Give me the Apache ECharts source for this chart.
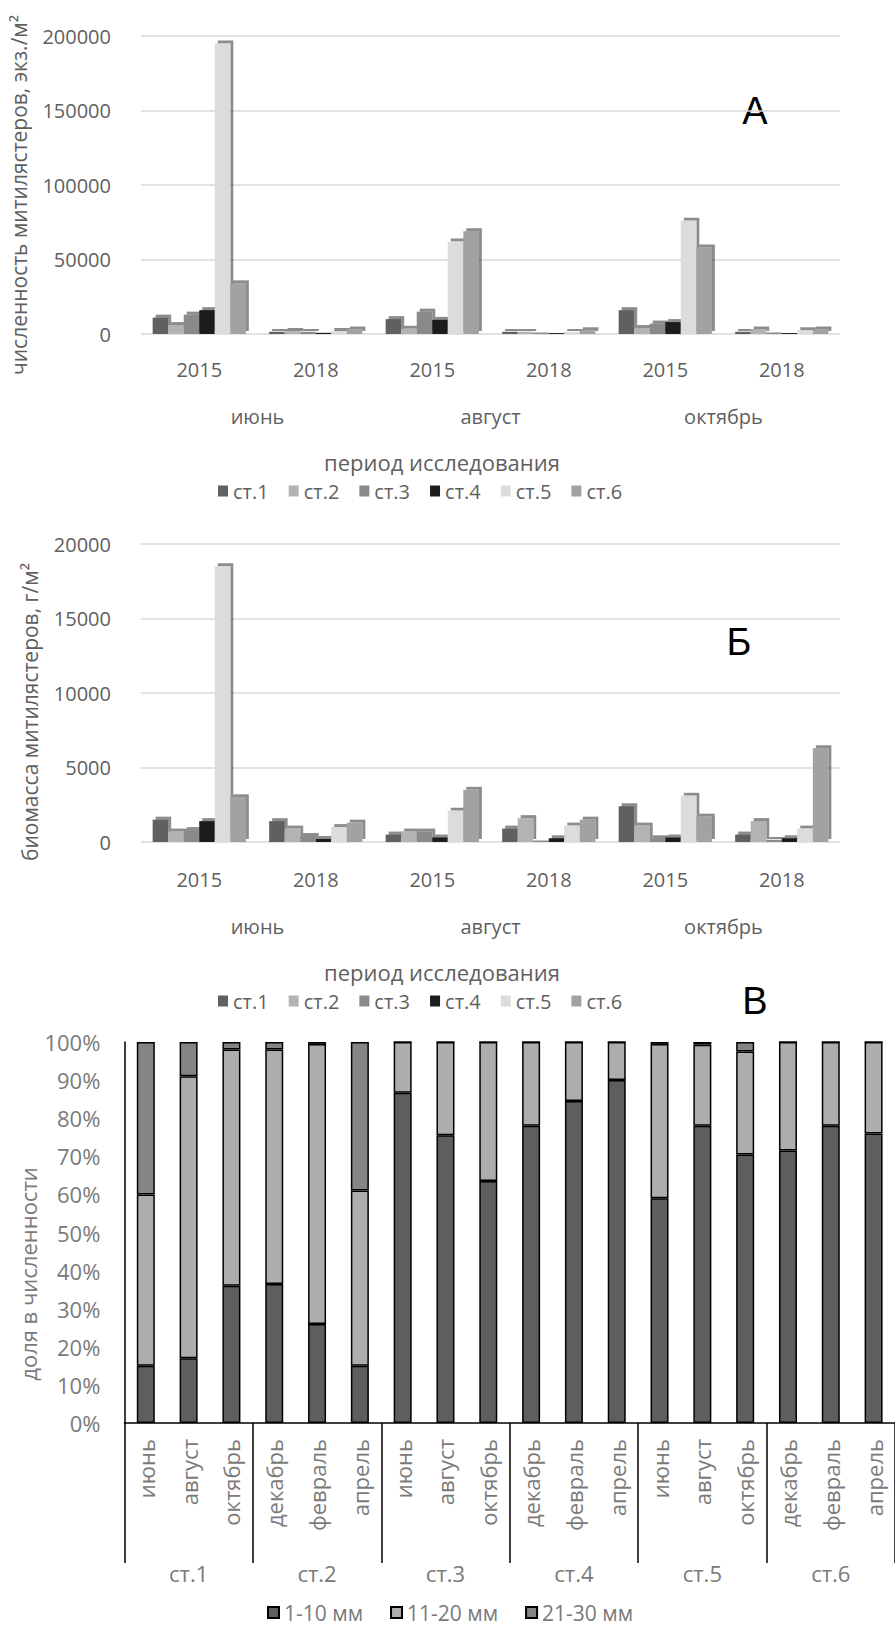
<!DOCTYPE html>
<html>
<head>
<meta charset="utf-8">
<script src="https://cdn.jsdelivr.net/npm/echarts@6/dist/echarts.min.js"></script>
<style>
  html, body { margin: 0; padding: 0; background: #ffffff; }
  #chart { width: 895px; height: 1625px; }
</style>
</head>
<body>
<div id="chart"></div>
<script>
// ---- categories and tick labels ----
const stations = ['ст.1', 'ст.2', 'ст.3', 'ст.4', 'ст.5', 'ст.6'];
const years = ['2015', '2018', '2015', '2018', '2015', '2018'];
const seasons = ['июнь', 'август', 'октябрь'];

// ---- А: численность митилястеров, экз./м² (по периодам) ----
const abundSt1 = [11000, 1500, 10000, 1500, 16000, 1500];
const abundSt2 = [6000, 2000, 3500, 1500, 4000, 3000];
const abundSt3 = [13000, 1500, 15000, 1000, 7000, 1000];
const abundSt4 = [16000, 800, 9500, 600, 8000, 600];
const abundSt5 = [195000, 2000, 62000, 1500, 76000, 2500];
const abundSt6 = [34000, 3000, 69000, 2500, 58000, 3000];

// ---- Б: биомасса митилястеров, г/м² ----
const biomSt1 = [1500, 1400, 500, 900, 2400, 500];
const biomSt2 = [700, 900, 700, 1600, 1100, 1400];
const biomSt3 = [800, 400, 700, 100, 250, 150];
const biomSt4 = [1400, 200, 300, 250, 300, 250];
const biomSt5 = [18500, 1000, 2100, 1100, 3100, 900];
const biomSt6 = [3000, 1300, 3500, 1500, 1700, 6300];

// ---- В: доля размерных групп в численности, % ----
const sampleMonths = ['июнь', 'август', 'октябрь', 'декабрь', 'февраль', 'апрель',
                      'июнь', 'август', 'октябрь', 'декабрь', 'февраль', 'апрель',
                      'июнь', 'август', 'октябрь', 'декабрь', 'февраль', 'апрель'];
const sizeGroups = ['1-10 мм', '11-20 мм', '21-30 мм'];
const share1to10  = [15, 17, 36, 36.5, 26, 15, 86.7, 75.5, 63.5, 78, 84.5, 90, 59, 78, 70.5, 71.5, 78, 76];
const share11to20 = [45, 74, 62, 61.5, 73.5, 46, 13.3, 24.5, 36.5, 22, 15.5, 10, 40.5, 21.3, 27, 28.5, 22, 24];
const share21to30 = [40, 9, 2, 2, 0.5, 39, 0, 0, 0, 0, 0, 0, 0.5, 0.7, 2.5, 0, 0, 0];

const abundance = [abundSt1, abundSt2, abundSt3, abundSt4, abundSt5, abundSt6];
const biomass = [biomSt1, biomSt2, biomSt3, biomSt4, biomSt5, biomSt6];
const shares = [share1to10, share11to20, share21to30];

// ---- styling ----
const stationColors = ['#616161', '#b3b3b3', '#8a8a8a', '#1c1c1c', '#dcdcdc', '#a2a2a2'];
const sizeColors = ['#5e5e5e', '#adadad', '#858585'];
const FONT = '"Open Sans", "Noto Sans", sans-serif';
const textGrey = '#5f5f5f';
const textGreyC = '#7a7a7a';

function barSeries(values, gridAxis) {
  return values.map((vals, i) => ({
    type: 'bar',
    name: stations[i],
    xAxisIndex: gridAxis.x,
    yAxisIndex: gridAxis.y,
    data: vals,
    barGap: '0%',
    barCategoryGap: '20%',
    itemStyle: {
      color: stationColors[i],
      shadowColor: 'rgba(0,0,0,0.45)',
      shadowBlur: 0,
      shadowOffsetX: 3,
      shadowOffsetY: -3
    },
    emphasis: { disabled: true }
  }));
}

function yearAxis(gridIndex, margin) {
  return {
    gridIndex, type: 'category', data: years, position: 'bottom',
    axisLine: { show: false, onZero: false }, axisTick: { show: false },
    axisLabel: { interval: 0, margin, fontSize: 20, color: textGrey }
  };
}
function seasonAxis(gridIndex, margin) {
  return {
    gridIndex, type: 'category', data: seasons, position: 'bottom', offset: 47,
    axisLine: { show: false, onZero: false }, axisTick: { show: false },
    axisLabel: { interval: 0, margin, fontSize: 20, color: textGrey }
  };
}
function valueAxis(gridIndex, max, interval) {
  return {
    gridIndex, type: 'value', min: 0, max, interval,
    axisLine: { show: false }, axisTick: { show: false },
    splitLine: { lineStyle: { color: '#d9d9d9', width: 1.5 } },
    axisLabel: { margin: 30, fontSize: 20, color: textGrey, padding: [12, 0, 0, 0],
                 formatter: (v) => String(v) }
  };
}

const legendIconStyle = { shadowBlur: 0, shadowOffsetX: 0, shadowOffsetY: 0, shadowColor: 'transparent' };

const option = {
  animation: false,
  textStyle: { fontFamily: FONT },
  grid: [
    { left: 141, right: 55, top: 36, height: 298 },
    { left: 141, right: 55, top: 544, height: 298 },
    { left: 124.4, width: 778.3, top: 1042, height: 381 }
  ],
  xAxis: [
    yearAxis(0, 25),
    seasonAxis(0, 25),
    yearAxis(1, 27),
    seasonAxis(1, 27),
    {
      gridIndex: 2, type: 'category', data: sampleMonths, position: 'bottom',
      axisLine: { show: true, onZero: false, lineStyle: { color: '#000', width: 1.5 } },
      axisTick: { show: false },
      axisLabel: { interval: 0, rotate: 90, margin: 16, fontSize: 22, color: textGreyC }
    },
    {
      gridIndex: 2, type: 'category', data: stations, position: 'bottom',
      axisLine: { show: false, onZero: false },
      axisTick: { show: true, length: 140, lineStyle: { color: '#000', width: 1.5 } },
      axisLabel: { interval: 0, margin: 139, fontSize: 22, color: textGreyC }
    }
  ],
  yAxis: [
    valueAxis(0, 200000, 50000),
    valueAxis(1, 20000, 5000),
    {
      gridIndex: 2, type: 'value', min: 0, max: 100, interval: 10,
      axisLine: { show: true, lineStyle: { color: '#000', width: 1.5 } },
      axisTick: { show: false }, splitLine: { show: false },
      axisLabel: { margin: 24, fontSize: 22, color: textGreyC, formatter: '{value}%' }
    }
  ],
  legend: [
    {
      data: stations, left: 218, top: 481, padding: 0, icon: 'rect', itemWidth: 10, itemHeight: 11, itemGap: 20,
      selectedMode: false, itemStyle: legendIconStyle,
      textStyle: { fontSize: 20, color: textGrey, fontFamily: FONT }
    },
    {
      data: stations, left: 218, top: 991, padding: 0, icon: 'rect', itemWidth: 10, itemHeight: 11, itemGap: 20,
      selectedMode: false, itemStyle: legendIconStyle,
      textStyle: { fontSize: 20, color: textGrey, fontFamily: FONT }
    },
    {
      data: sizeGroups, left: 267, top: 1602, padding: 0, icon: 'rect', itemWidth: 11, itemHeight: 11, itemGap: 27,
      selectedMode: false,
      textStyle: { fontSize: 21, lineHeight: 21, color: textGreyC, fontFamily: FONT }
    }
  ],
  graphic: [
    { type: 'text', x: 19, y: 195, rotation: Math.PI / 2,
      style: { text: 'численность митилястеров, экз./м²', fontSize: 21, fontFamily: FONT, fill: textGrey, align: 'center', verticalAlign: 'middle' } },
    { type: 'text', x: 442, y: 462,
      style: { text: 'период исследования', fontSize: 22, fontFamily: FONT, fill: textGrey, align: 'center', verticalAlign: 'middle' } },
    { type: 'text', x: 755, y: 111,
      style: { text: 'А', fontSize: 38, fontFamily: '"Liberation Sans", sans-serif', fill: '#000', align: 'center', verticalAlign: 'middle' } },
    { type: 'text', x: 30, y: 712, rotation: Math.PI / 2,
      style: { text: 'биомасса митилястеров, г/м²', fontSize: 21, fontFamily: FONT, fill: textGrey, align: 'center', verticalAlign: 'middle' } },
    { type: 'text', x: 442, y: 972,
      style: { text: 'период исследования', fontSize: 22, fontFamily: FONT, fill: textGrey, align: 'center', verticalAlign: 'middle' } },
    { type: 'text', x: 739, y: 642,
      style: { text: 'Б', fontSize: 38, fontFamily: '"Liberation Sans", sans-serif', fill: '#000', align: 'center', verticalAlign: 'middle' } },
    { type: 'text', x: 755, y: 1001,
      style: { text: 'В', fontSize: 38, fontFamily: '"Liberation Sans", sans-serif', fill: '#000', align: 'center', verticalAlign: 'middle' } },
    { type: 'text', x: 28, y: 1274, rotation: Math.PI / 2,
      style: { text: 'доля в численности', fontSize: 22, fontFamily: FONT, fill: textGreyC, align: 'center', verticalAlign: 'middle' } }
  ],
  series: [
    ...barSeries(abundance, { x: 0, y: 0 }),
    ...barSeries(biomass, { x: 2, y: 1 }),
    ...shares.map((vals, i) => ({
      type: 'bar',
      name: sizeGroups[i],
      xAxisIndex: 4,
      yAxisIndex: 2,
      stack: 'share',
      barWidth: 18,
      data: vals,
      itemStyle: { color: sizeColors[i], borderColor: '#000', borderWidth: 1.5 },
      emphasis: { disabled: true }
    }))
  ]
};

const chart = echarts.init(document.getElementById('chart'), null, { renderer: 'svg' });
chart.setOption(option);
</script>
</body>
</html>
